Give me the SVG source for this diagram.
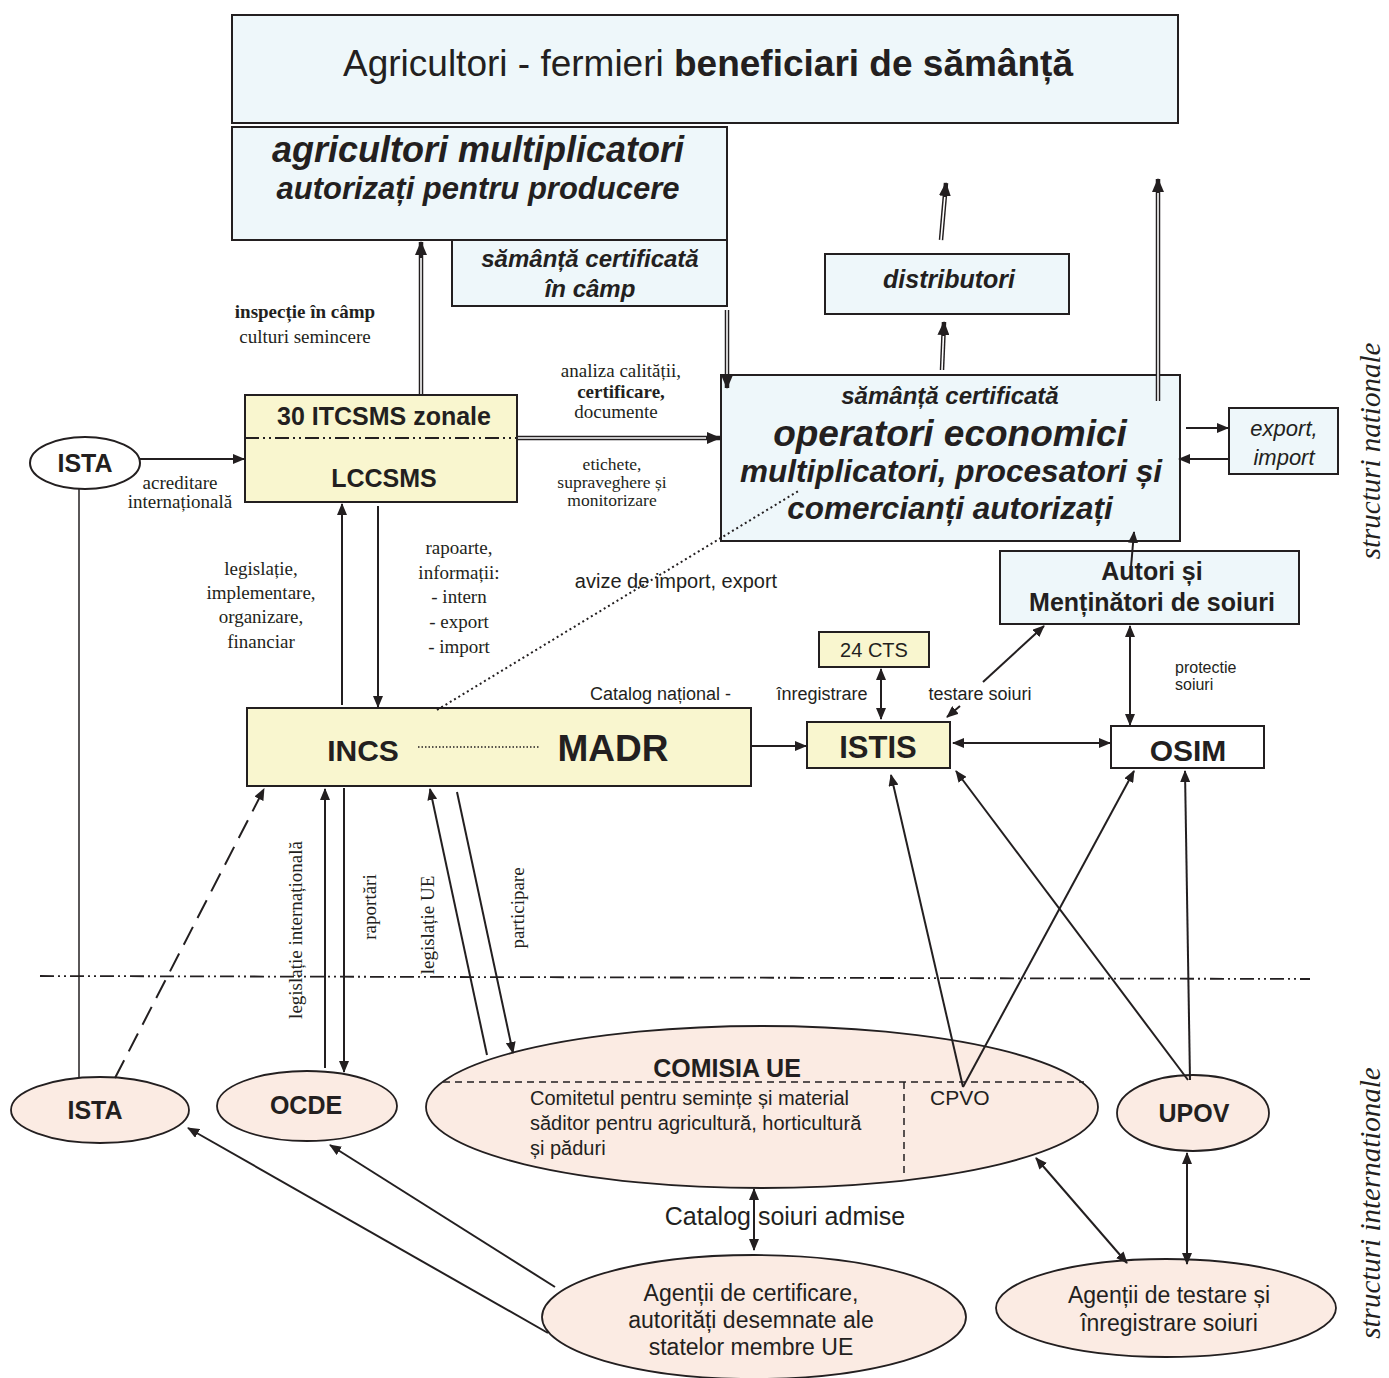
<svg xmlns="http://www.w3.org/2000/svg" width="1389" height="1378" viewBox="0 0 1389 1378">
<defs>
<marker id="ah" viewBox="0 0 12 10" refX="11" refY="5" markerWidth="12" markerHeight="10" markerUnits="userSpaceOnUse" orient="auto-start-reverse"><path d="M0,0 L12,5 L0,10 z" fill="#231f20"/></marker>
<marker id="dah" viewBox="0 0 14 12" refX="13" refY="6" markerWidth="14" markerHeight="12" markerUnits="userSpaceOnUse" orient="auto-start-reverse"><path d="M0,0 L14,6 L0,12 z" fill="#231f20"/></marker>
</defs>
<style>
.blue{fill:#eef7fa;stroke:#231f20;stroke-width:2}
.yel{fill:#f9f6cf;stroke:#231f20;stroke-width:2}
.pink{fill:#fbebe3;stroke:#231f20;stroke-width:1.8}
.wht{fill:#ffffff;stroke:#231f20;stroke-width:2}
.s{font-family:"Liberation Sans",Arial,sans-serif;fill:#231f20}
.b{font-weight:bold}
.i{font-style:italic}
.r{font-family:"Liberation Serif","Times New Roman",serif;fill:#231f20}
.m{text-anchor:middle}
.ln{fill:none;stroke:#231f20;stroke-width:2}
.thin{fill:none;stroke:#231f20;stroke-width:1.5}
.a{marker-end:url(#ah)}
.aa{marker-end:url(#ah);marker-start:url(#ah)}
.dO{fill:none;stroke:#231f20;stroke-width:4.5;marker-end:url(#dah)}
.dI{fill:none;stroke:#ffffff;stroke-width:1.6}
.dd{fill:none;stroke:#231f20;stroke-width:1.8;stroke-dasharray:14 4 2 4 2 4}
</style>

<g id="n-beneficiari">
  <rect class="blue" x="232" y="15" width="946" height="108"/>
  <text class="s m" x="708" y="76" font-size="37">Agricultori - fermieri <tspan class="b">beneficiari de sămânță</tspan></text>
</g>
<g id="n-multiplicatori">
  <rect class="blue" x="232" y="127" width="495" height="113"/>
  <text class="s b i m" x="478" y="162" font-size="36">agricultori multiplicatori</text>
  <text class="s b i m" x="478" y="199" font-size="31">autorizați pentru producere</text>
</g>
<g id="n-samanta-camp">
  <rect class="blue" x="452" y="240" width="275" height="66"/>
  <text class="s b i m" x="590" y="267" font-size="24">sămânță certificată</text>
  <text class="s b i m" x="590" y="297" font-size="24">în câmp</text>
</g>
<g id="n-distributori">
  <rect class="blue" x="825" y="254" width="244" height="60"/>
  <text class="s b i m" x="949" y="288" font-size="25">distributori</text>
</g>
<g id="n-operatori">
  <rect class="blue" x="721" y="375" width="459" height="166"/>
  <text class="s b i m" x="950" y="404" font-size="24">sămânță certificată</text>
  <text class="s b i m" x="950" y="446" font-size="37">operatori economici</text>
  <text class="s b i m" x="951" y="482" font-size="31.5">multiplicatori, procesatori și</text>
  <text class="s b i m" x="950" y="519" font-size="31.5">comercianți autorizați</text>
</g>
<g id="n-export">
  <rect class="blue" x="1229" y="408" width="109" height="66"/>
  <text class="s i m" x="1284" y="436" font-size="22">export,</text>
  <text class="s i m" x="1284" y="465" font-size="22">import</text>
</g>
<g id="n-ista-nat">
  <ellipse cx="85" cy="463" rx="55" ry="26" fill="#ffffff" stroke="#231f20" stroke-width="2"/>
  <text class="s b m" x="85" y="472" font-size="25">ISTA</text>
</g>
<g id="n-itcsms">
  <rect class="yel" x="245" y="395" width="272" height="107"/>
  <path class="dd" d="M245,438 L517,438"/>
  <text class="s b m" x="384" y="425" font-size="25">30 ITCSMS zonale</text>
  <text class="s b m" x="384" y="487" font-size="25">LCCSMS</text>
</g>
<g id="n-incs-madr">
  <rect class="yel" x="247" y="708" width="504" height="78"/>
  <text class="s b m" x="363" y="761" font-size="30">INCS</text>
  <path d="M418,747 L540,747" stroke="#231f20" stroke-width="1.5" stroke-dasharray="1.5 2" fill="none"/>
  <text class="s b m" x="613" y="761" font-size="37">MADR</text>
</g>
<g id="n-cts">
  <rect class="yel" x="819" y="632" width="110" height="35"/>
  <text class="s m" x="874" y="657" font-size="20">24 CTS</text>
</g>
<g id="n-istis">
  <rect class="yel" x="807" y="722" width="143" height="46"/>
  <text class="s b m" x="878" y="758" font-size="31">ISTIS</text>
</g>
<g id="n-autori">
  <rect class="blue" x="1000" y="551" width="299" height="73"/>
  <text class="s b m" x="1152" y="580" font-size="25">Autori și</text>
  <text class="s b m" x="1152" y="611" font-size="25">Menținători de soiuri</text>
</g>
<g id="n-osim">
  <rect class="wht" x="1111" y="726" width="153" height="42"/>
  <text class="s b m" x="1188" y="761" font-size="30">OSIM</text>
</g>
<g id="n-ista-int">
  <ellipse class="pink" cx="100" cy="1110" rx="89" ry="33"/>
  <text class="s b m" x="95" y="1119" font-size="25">ISTA</text>
</g>
<g id="n-ocde">
  <ellipse class="pink" cx="307" cy="1106" rx="90" ry="35"/>
  <text class="s b m" x="306" y="1114" font-size="25">OCDE</text>
</g>
<g id="n-comisia">
  <ellipse class="pink" cx="762" cy="1107" rx="336" ry="81"/>
  <path d="M443,1082 L1084,1082 M904,1082 L904,1178" fill="none" stroke="#231f20" stroke-width="1.5" stroke-dasharray="7 5"/>
  <text class="s b m" x="727" y="1077" font-size="25">COMISIA UE</text>
  <text class="s" x="530" y="1105" font-size="20">Comitetul pentru semințe și material</text>
  <text class="s" x="530" y="1130" font-size="20">săditor pentru agricultură, horticultură</text>
  <text class="s" x="530" y="1155" font-size="20">și păduri</text>
  <text class="s" x="930" y="1105" font-size="21">CPVO</text>
</g>
<g id="n-upov">
  <ellipse class="pink" cx="1193" cy="1113" rx="76" ry="38"/>
  <text class="s b m" x="1194" y="1122" font-size="25">UPOV</text>
</g>
<g id="n-agentii-cert">
  <ellipse class="pink" cx="754" cy="1317" rx="212" ry="62"/>
  <text class="s m" x="751" y="1301" font-size="23">Agenții de certificare,</text>
  <text class="s m" x="751" y="1328" font-size="23">autorități desemnate ale</text>
  <text class="s m" x="751" y="1355" font-size="23">statelor membre UE</text>
</g>
<g id="n-agentii-test">
  <ellipse class="pink" cx="1166" cy="1308" rx="170" ry="49"/>
  <text class="s m" x="1169" y="1303" font-size="23">Agenții de testare și</text>
  <text class="s m" x="1169" y="1331" font-size="23">înregistrare soiuri</text>
</g>

<g id="connectors">
  <path class="ln a" d="M140,459 L244,459"/>
  <path class="thin" d="M79,489 L79,1078"/>
  <path class="ln a" d="M115,1078 L264,789" stroke-dasharray="20 10"/>
  <path class="dO" d="M421,394 L421,242"/>
  <path class="dI" d="M421,394 L421,258"/>
  <path class="dO" d="M727,310 L727,388"/>
  <path class="dI" d="M727,310 L727,374"/>
  <path class="dO" d="M518,438 L720,438"/>
  <path class="dI" d="M518,438 L706,438"/>
  <path class="dO" d="M942,370 L944,322"/>
  <path class="dI" d="M942,370 L943.4,336"/>
  <path class="dO" d="M941,240 L946,183"/>
  <path class="dI" d="M941,240 L944.8,197"/>
  <path class="dO" d="M1158,401 L1158,179"/>
  <path class="dI" d="M1158,401 L1158,193"/>
  <path class="ln a" d="M1186,428 L1228,428"/>
  <path class="ln a" d="M1228,459 L1179,459"/>
  <path class="ln a" d="M1131,567 L1134,532"/>
  <path class="ln aa" d="M1130,626 L1130,725"/>
  <path class="ln a" d="M983,682 L1044,626"/>
  <path class="ln a" d="M960,706 L947,717"/>
  <path class="ln aa" d="M881,669 L881,719"/>
  <path class="ln a" d="M752,746 L806,746"/>
  <path class="ln aa" d="M953,743 L1110,743"/>
  <path class="ln a" d="M342,705 L342,504"/>
  <path class="ln a" d="M378,506 L378,707"/>
  <path d="M437,710 L800,490" fill="none" stroke="#231f20" stroke-width="2" stroke-dasharray="2 3"/>
  <path class="ln a" d="M325,1068 L325,789"/>
  <path class="ln a" d="M344,788 L344,1072"/>
  <path class="ln a" d="M487,1055 L430,789"/>
  <path class="ln a" d="M457,792 L513,1053"/>
  <path class="ln a" d="M963,1087 L891,775"/>
  <path class="ln a" d="M963,1087 L1134,771"/>
  <path class="ln a" d="M1188,1080 L956,771"/>
  <path class="ln a" d="M1190,1080 L1185,771"/>
  <path class="ln aa" d="M1036,1158 L1127,1263"/>
  <path class="ln aa" d="M1187,1153 L1187,1264"/>
  <path class="ln aa" d="M754,1189 L754,1250"/>
  <path class="ln a" d="M548,1333 L188,1128"/>
  <path class="ln a" d="M555,1287 L330,1145"/>
  <path class="dd" d="M40,976 L1310,979"/>
</g>

<g id="labels">
  <text class="r m" x="305" y="318" font-size="19" font-weight="bold">inspecție în câmp</text>
  <text class="r m" x="305" y="343" font-size="19">culturi semincere</text>
  <text class="r m" x="180" y="489" font-size="19">acreditare</text>
  <text class="r m" x="180" y="508" font-size="19">internațională</text>
  <text class="r m" x="621" y="377" font-size="19">analiza calității,</text>
  <text class="r m" x="621" y="398" font-size="19" font-weight="bold">certificare,</text>
  <text class="r m" x="616" y="418" font-size="19">documente</text>
  <text class="r m" x="612" y="470" font-size="17.5">etichete,</text>
  <text class="r m" x="612" y="488" font-size="17.5">supraveghere și</text>
  <text class="r m" x="612" y="506" font-size="17.5">monitorizare</text>
  <text class="r m" x="261" y="575" font-size="19">legislație,</text>
  <text class="r m" x="261" y="599" font-size="19">implementare,</text>
  <text class="r m" x="261" y="623" font-size="19">organizare,</text>
  <text class="r m" x="261" y="648" font-size="19">financiar</text>
  <text class="r m" x="459" y="554" font-size="19">rapoarte,</text>
  <text class="r m" x="459" y="579" font-size="19">informații:</text>
  <text class="r m" x="459" y="603" font-size="19">- intern</text>
  <text class="r m" x="459" y="628" font-size="19">- export</text>
  <text class="r m" x="459" y="653" font-size="19">- import</text>
  <text class="s m" x="676" y="588" font-size="20">avize de import, export</text>
  <text class="s" x="590" y="700" font-size="18">Catalog național  -</text>
  <text class="s m" x="822" y="700" font-size="18">înregistrare</text>
  <text class="s m" x="980" y="700" font-size="18">testare soiuri</text>
  <text class="s" x="1175" y="673" font-size="16">protectie</text>
  <text class="s" x="1175" y="690" font-size="16">soiuri</text>
  <text class="r m" transform="translate(302,930) rotate(-90)" font-size="19">legislație internațională</text>
  <text class="r m" transform="translate(376,907) rotate(-90)" font-size="19">raportări</text>
  <text class="r m" transform="translate(434,925) rotate(-90)" font-size="19">legislație UE</text>
  <text class="r m" transform="translate(524,908) rotate(-90)" font-size="19">participare</text>
  <text class="s m" x="785" y="1225" font-size="25">Catalog soiuri admise</text>
  <text class="r i m" transform="translate(1380,451) rotate(-90)" font-size="29">structuri   nationale</text>
  <text class="r i m" transform="translate(1380,1203) rotate(-90)" font-size="29">structuri internationale</text>
</g>
</svg>
